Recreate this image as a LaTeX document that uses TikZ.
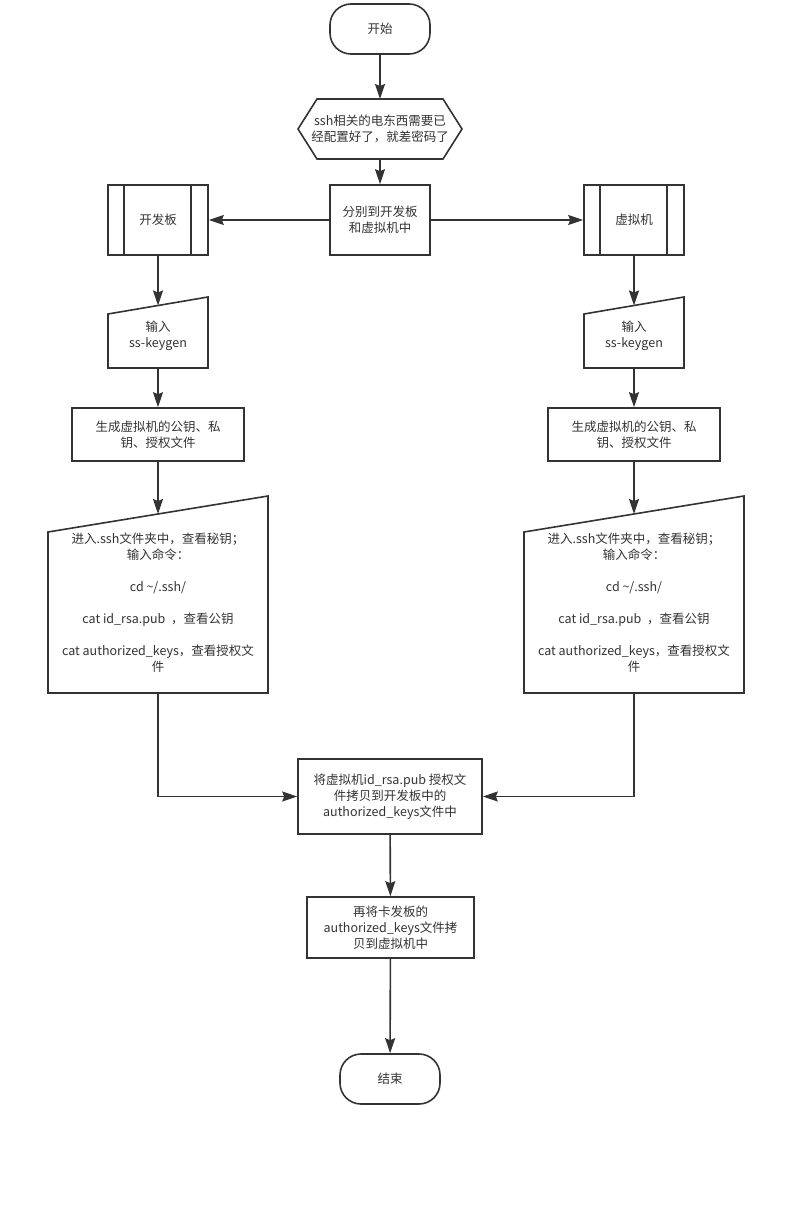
\documentclass[tikz,border=0pt]{standalone}
\usepackage{fontspec}
\setmainfont{Noto Sans CJK SC}
\usetikzlibrary{arrows.meta,calc}
\definecolor{ln}{HTML}{333333}
\tikzset{
  shp/.style={draw=ln, line width=1.6pt, fill=white},
  inner/.style={draw=ln, line width=1.6pt},
  txt/.style={align=center, font=\fontsize{12.5}{16}\selectfont, text=ln, inner sep=0pt},
  box/.style={shp, txt, rectangle},
  arr/.style={draw=ln, line width=1.6pt, -{Stealth[length=15pt,width=10pt,inset=2pt]}},
}
\begin{document}
\begin{tikzpicture}[x=1pt,y=-1pt]
\useasboundingbox[fill=white] (0,0) rectangle (806,1212);

% start
\node[box, rounded corners=21pt, minimum width=100pt, minimum height=50pt] (start) at (380,29) {开始};

% hexagon
\draw[shp] (298,129) -- (317,99) -- (443,99) -- (462,129) -- (443,159) -- (317,159) -- cycle;
\node[txt, minimum width=164pt, minimum height=60pt] (hex) at (380,129) {ssh相关的电东西需要已\\经配置好了，就差密码了};

% split
\node[box, minimum width=100pt, minimum height=70pt] (split) at (380,220) {分别到开发板\\和虚拟机中};

% subroutines
\node[box, minimum width=100pt, minimum height=70pt] (board) at (158,220) {开发板};
\draw[inner] (124,185) -- (124,255) (191,185) -- (191,255);
\node[box, minimum width=100pt, minimum height=70pt] (vm) at (634,220) {虚拟机};
\draw[inner] (600,185) -- (600,255) (667,185) -- (667,255);

% manual input small (left)
\draw[shp] (108,314) -- (208,297) -- (208,368) -- (108,368) -- cycle;
\node[txt, minimum width=100pt] (inL) at (158,336) {输入\\ss-keygen};
\coordinate (inLtop) at (158,305.5);
% manual input small (right)
\draw[shp] (584,314) -- (684,297) -- (684,368) -- (584,368) -- cycle;
\node[txt, minimum width=100pt] (inR) at (634,336) {输入\\ss-keygen};
\coordinate (inRtop) at (634,305.5);

% generate boxes
\node[box, minimum width=172pt, minimum height=53pt] (genL) at (158,434.5) {生成虚拟机的公钥、私\\钥、授权文件};
\node[box, minimum width=172pt, minimum height=53pt] (genR) at (634,434.5) {生成虚拟机的公钥、私\\钥、授权文件};

% big manual input (left)
\draw[shp] (48,532) -- (268,496) -- (268,693) -- (48,693) -- cycle;
\node[txt, minimum width=220pt] (catL) at (158,603) {进入.ssh文件夹中，查看秘钥；\\输入命令：\\[16pt]cd \textasciitilde/.ssh/\\[16pt]cat id\_rsa.pub \ ，查看公钥\\[16pt]cat authorized\_keys，查看授权文\\件};
\coordinate (catLtop) at (158,514);
\coordinate (catLbot) at (158,693);
% big manual input (right)
\draw[shp] (524,532) -- (744,496) -- (744,693) -- (524,693) -- cycle;
\node[txt, minimum width=220pt] (catR) at (634,603) {进入.ssh文件夹中，查看秘钥；\\输入命令：\\[16pt]cd \textasciitilde/.ssh/\\[16pt]cat id\_rsa.pub \ ，查看公钥\\[16pt]cat authorized\_keys，查看授权文\\件};
\coordinate (catRtop) at (634,514);
\coordinate (catRbot) at (634,693);

% copy boxes
\node[box, minimum width=184pt, minimum height=75pt] (copy1) at (390,796.5) {将虚拟机id\_rsa.pub 授权文\\件拷贝到开发板中的\\authorized\_keys文件中};
\node[box, minimum width=167pt, minimum height=61pt] (copy2) at (390.5,927.5) {再将卡发板的\\authorized\_keys文件拷\\贝到虚拟机中};

% end
\node[box, rounded corners=21pt, minimum width=100pt, minimum height=50pt] (stop) at (390,1079) {结束};

% connectors
\draw[arr] (start) -- (start.south |- 0,99);
\draw[arr] (start.south |- 0,159) -- (split);
\draw[arr] (split) -- (board);
\draw[arr] (split) -- (vm);
\draw[arr] (board) -- (inLtop);
\draw[arr] (vm) -- (inRtop);
\draw[arr] (inL.center |- 0,368) -- (genL);
\draw[arr] (inR.center |- 0,368) -- (genR);
\draw[arr] (genL) -- (catLtop);
\draw[arr] (genR) -- (catRtop);
\draw[arr] (catLbot) |- (copy1.west);
\draw[arr] (catRbot) |- (copy1.east);
\draw[arr] (copy1) -- (copy2);
\draw[arr] (copy2) -- (stop);
\end{tikzpicture}
\end{document}
